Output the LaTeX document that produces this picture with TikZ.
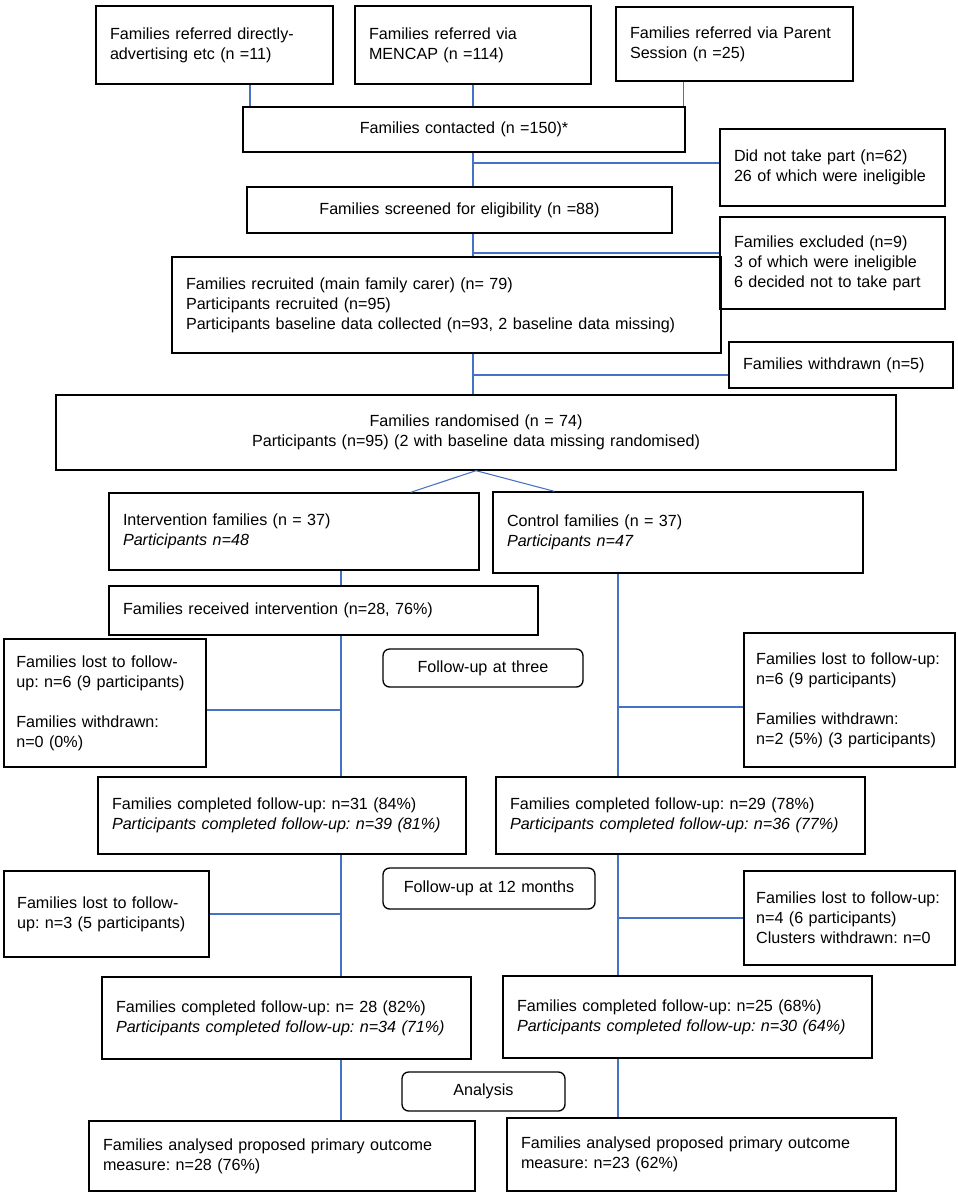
\documentclass[tikz,border=0pt]{standalone}
\usepackage{fontspec}
\setmainfont{Liberation Sans}
\frenchspacing
\definecolor{linkblue}{RGB}{68,114,196}
\tikzset{
  box/.style 2 args={draw, line width=1pt, align=left, inner sep=0pt,
    minimum width=#1pt, minimum height=#2pt, text width=#1pt-21pt},
  cbox/.style 2 args={box={#1}{#2}, align=center},
  stage/.style 2 args={box={#1}{#2}, align=center, rounded corners=5pt},
  link/.style={linkblue, line width=0.8pt}
}
\begin{document}
\begin{tikzpicture}[x=0.75pt, y=-0.75pt, font=\fontsize{12.1}{15}\selectfont]
  \useasboundingbox (0,0) rectangle (957,1196);
  % referral and screening
  \node[box={177.75}{58.5}] (refdirect) at (214.5,45) {Families referred directly-\\advertising etc (n =11)};
  \node[box={177}{58.5}] (refmencap) at (473,45) {Families referred via\\MENCAP (n =114)};
  \node[box={177.75}{55.5}] (refparent) at (734.5,44) {Families referred via Parent\\Session (n =25)};
  \node[cbox={331.5}{33.75}] (contacted) at (464,129.5) {Families contacted (n =150)*};
  \node[box={168.75}{57.75}] (notpart) at (832.5,167.5) {Did not take part (n=62)\\26 of which were ineligible};
  \node[cbox={318.75}{34.5}] (screened) at (459.5,210) {Families screened for eligibility (n =88)};
  \node[box={168.75}{69}] (excluded) at (832.5,263) {Families excluded (n=9)\\3 of which were ineligible\\6 decided not to take part};
  \node[box={411.75}{72}] (recruited) at (446.5,305) {Families recruited (main family carer) (n= 79)\\Participants recruited (n=95)\\Participants baseline data collected (n=93, 2 baseline data missing)};
  \node[box={168}{34.5}] (withdrawn) at (841,365) {Families withdrawn (n=5)};
  \node[cbox={630}{56.25}] (random) at (476,432.5) {Families randomised (n = 74)\\Participants (n=95) (2 with baseline data missing randomised)};
  % arms
  \node[box={277.5}{57.75}] (intfam) at (294,531.5) {Intervention families (n = 37)\\\textit{Participants n=48}};
  \node[box={277.5}{60.75}] (confam) at (678,532.5) {Control families (n = 37)\\\textit{Participants n=47}};
  \node[box={321.75}{36.75}] (received) at (323.5,610.5) {Families received intervention (n=28, 76\%)};
  % three months
  \node[box={151.5}{96}, text width=133pt] (lostA) at (105,703) {Families lost to follow-\\up: n=6 (9 participants)\\[15pt]Families withdrawn:\\n=0 (0\%)};
  \node[stage={150}{28.5}] (futhree) at (483,668) {Follow-up at three};
  \node[box={158.25}{100.5}, text width=140pt] (lostB) at (849.5,700) {Families lost to follow-up:\\n=6 (9 participants)\\[15pt]Families withdrawn:\\n=2 (5\%) (3 participants)};
  \node[box={276}{57.75}] (compA) at (282,815.5) {Families completed follow-up: n=31 (84\%)\\\textit{Participants completed follow-up: n=39 (81\%)}};
  \node[box={276.75}{57.75}] (compB) at (680.5,815.5) {Families completed follow-up: n=29 (78\%)\\\textit{Participants completed follow-up: n=36 (77\%)}};
  % twelve months
  \node[box={153.75}{64.5}, text width=134pt] (lostC) at (106.5,914) {Families lost to follow-\\up: n=3 (5 participants)};
  \node[stage={159}{30.75}] (futwelve) at (489,888.5) {Follow-up at 12 months};
  \node[box={158.25}{70.5}, text width=140pt] (lostD) at (849.5,918) {Families lost to follow-up:\\n=4 (6 participants)\\Clusters withdrawn: n=0};
  \node[box={276.75}{61.5}] (compC) at (286.5,1018) {Families completed follow-up: n= 28 (82\%)\\\textit{Participants completed follow-up: n=34 (71\%)}};
  \node[box={276.75}{61.5}] (compD) at (687.5,1017) {Families completed follow-up: n=25 (68\%)\\\textit{Participants completed follow-up: n=30 (64\%)}};
  % analysis
  \node[stage={122.25}{29.25}] (analysis) at (483.5,1091.5) {Analysis};
  \node[box={289.5}{52.5}] (anaA) at (282,1156) {Families analysed proposed primary outcome\\measure: n=28 (76\%)};
  \node[box={291.75}{54.75}] (anaB) at (701.5,1154.5) {Families analysed proposed primary outcome\\measure: n=23 (62\%)};
  % connectors
  \coordinate (spine) at (473,0);
  \coordinate (armL) at (341,0);
  \coordinate (armR) at (618,0);
  \coordinate (rd) at ([xshift=26.6pt]refdirect.south);
  \coordinate (rp) at ([xshift=-38.6pt]refparent.south);
  \draw[link] (rd) -- (rd |- contacted.north);
  \draw[link] (refmencap.south) -- (refmencap.south |- contacted.north);
  \draw[link] (rp) -- (rp |- contacted.north);
  \draw[link] (contacted.south -| spine) -- (screened.north -| spine);
  \draw[link] (screened.south -| spine) -- (recruited.north -| spine);
  \draw[link] (recruited.south -| spine) -- (random.north -| spine);
  \coordinate (np) at ([yshift=3.4pt]notpart.west);
  \coordinate (ex) at ([yshift=7.5pt]excluded.west);
  \coordinate (wd) at ([yshift=-7.5pt]withdrawn.west);
  \draw[link] (np) -- (np -| spine);
  \draw[link] (ex) -- (ex -| spine);
  \draw[link] (wd) -- (wd -| spine);
  \coordinate (splitL) at ([xshift=-51.75pt]intfam.north east);
  \coordinate (splitR) at ([xshift=46.5pt]confam.north west);
  \draw[link] (splitL) -- (random.south) -- (splitR);
  \draw[link] (intfam.south -| armL) -- (received.north -| armL);
  \draw[link] (received.south -| armL) -- (compA.north -| armL);
  \draw[link] (confam.south -| armR) -- (compB.north -| armR);
  \coordinate (la) at ([yshift=-5.25pt]lostA.east);
  \coordinate (lb) at ([yshift=-5.25pt]lostB.west);
  \draw[link] (la) -- (la -| armL);
  \draw[link] (lb) -- (lb -| armR);
  \draw[link] (compA.south -| armL) -- (compC.north -| armL);
  \draw[link] (compB.south -| armR) -- (compD.north -| armR);
  \draw[link] (lostC.east) -- (lostC.east -| armL);
  \draw[link] (lostD.west) -- (lostD.west -| armR);
  \draw[link] (compC.south -| armL) -- (anaA.north -| armL);
  \draw[link] (compD.south -| armR) -- (anaB.north -| armR);
\end{tikzpicture}
\end{document}
